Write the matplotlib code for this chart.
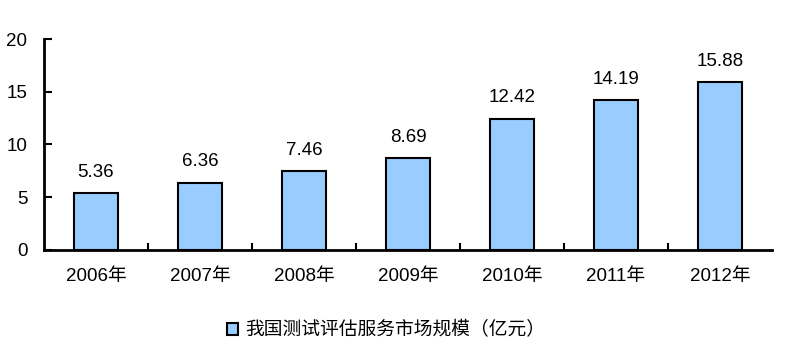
import matplotlib.pyplot as plt
import numpy as np

plt.rcParams['font.family'] = ['Liberation Sans', 'Noto Sans CJK SC', 'DejaVu Sans']

years = ['2006年', '2007年', '2008年', '2009年', '2010年', '2011年', '2012年']
values = [5.36, 6.36, 7.46, 8.69, 12.42, 14.19, 15.88]
label = '我国测试评估服务市场规模（亿元）'

fig = plt.figure(figsize=(7.93, 3.55), dpi=100)
ax = fig.add_axes([0.0555, 0.296, 0.918, 0.594])

x = np.arange(len(years))
bars = ax.bar(x, values, width=0.42, color='#99CCFF', edgecolor='black',
              linewidth=1.5, label=label)
for xi, v in zip(x, values):
    ax.text(xi, v + 1.2, f'{v:.2f}', ha='center', va='bottom', fontsize=13.5)

ax.set_xlim(-0.5, len(years) - 0.5)
ax.set_ylim(0, 20)
ax.set_yticks([0, 5, 10, 15, 20])
ax.tick_params(axis='y', direction='in', length=6, width=1.5, labelsize=13.5, pad=12)
ax.set_xticks(x)
ax.set_xticklabels(years, fontsize=13.5)
ax.tick_params(axis='x', which='major', length=0, pad=13)
ax.set_xticks(x[:-1] + 0.5, minor=True)
ax.tick_params(axis='x', which='minor', direction='in', length=5, width=1.5)

for s in ['top', 'right']:
    ax.spines[s].set_visible(False)
for s in ['left', 'bottom']:
    ax.spines[s].set_linewidth(2)

fig.legend(handles=[bars], labels=[label], loc='center', bbox_to_anchor=(0.487, 0.07),
           frameon=False, fontsize=13.5, handlelength=0.6, handleheight=0.6,
           handletextpad=0.4)

fig.savefig('out.png', dpi=100)
